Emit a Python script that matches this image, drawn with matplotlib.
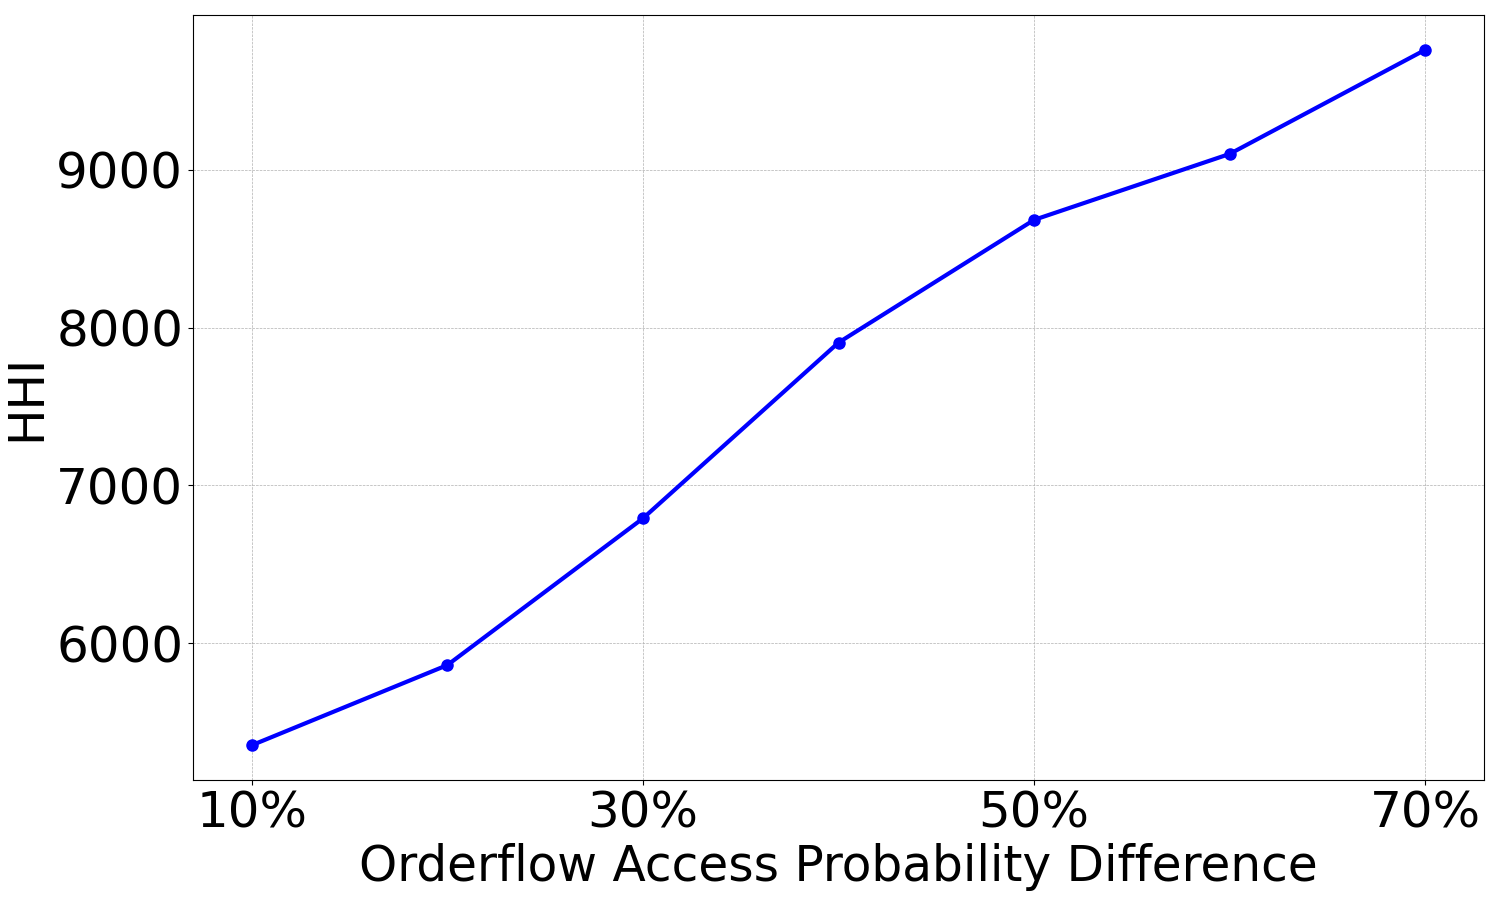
import matplotlib
matplotlib.use("Agg")
import matplotlib.pyplot as plt
from matplotlib.ticker import PercentFormatter

# Orderflow access probability difference (in %) and resulting HHI
prob_diff = [10, 20, 30, 40, 50, 60, 70]
hhi = [5353, 5861, 6791, 7905, 8683, 9101, 9761]
xticks = [10, 30, 50, 70]

fig, ax = plt.subplots(figsize=(15, 9), dpi=100)
ax.plot(prob_diff, hhi, color='blue', marker='o', linewidth=3, markersize=8)

ax.set_xticks(xticks)
ax.xaxis.set_major_formatter(PercentFormatter(decimals=0))
ax.tick_params(axis='both', labelsize=36)
ax.set_xlabel("Orderflow Access Probability Difference", fontsize=35)
ax.set_ylabel("HHI", fontsize=35)
ax.grid(True, linestyle='--', linewidth=0.5)

plt.subplots_adjust(left=0.1287, right=0.9893, top=0.9833, bottom=0.1333)
plt.savefig("out.png")
